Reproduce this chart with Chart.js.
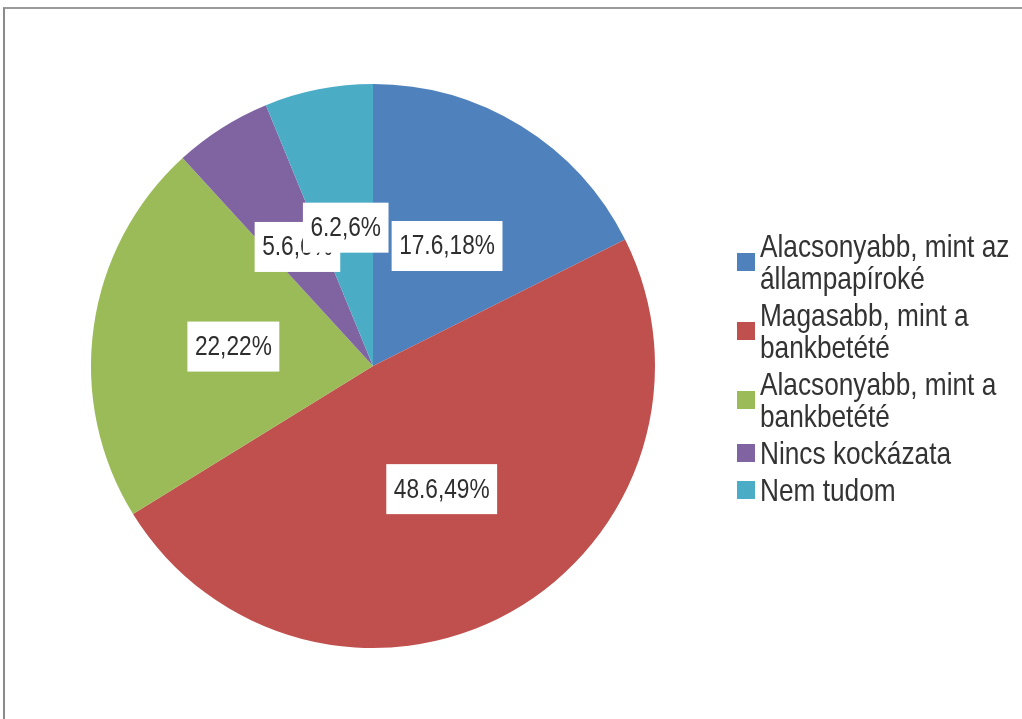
<!DOCTYPE html>
<html>
<head>
<meta charset="utf-8">
<script src="https://cdn.jsdelivr.net/npm/chart.js@4"></script>
<style>
  body { margin: 0; background: #fff; }
  #wrap { position: relative; width: 1022px; height: 719px; overflow: hidden; }
  #frame { position: absolute; left: 3px; top: 7px; width: 1100px; height: 800px;
           border-top: 2px solid #9a9a9a; border-left: 2px solid #8a8a8a; }
  #pie-chart { position: absolute; left: 0; top: 0; }
  #legend { position: absolute; left: 737px; top: 230px; margin: 0; padding: 0; list-style: none;
            font-family: "Liberation Sans", Arial, sans-serif;
            font-size: 32px; line-height: 32px; color: #333; white-space: nowrap; }
  #legend li { display: flex; align-items: center; margin-bottom: 5px; }
  #legend .box { width: 18px; height: 18px; margin-right: 5px; flex: none; }
  #legend .txt { display: inline-block; transform: scaleX(0.82); transform-origin: left center; }
</style>
</head>
<body>
<div id="wrap">
  <div id="frame"></div>
  <canvas id="pie-chart" width="1022" height="719"></canvas>
  <ul id="legend"></ul>
</div>
<script>
const pieCanvas = document.getElementById("pie-chart");
const legendList = document.getElementById("legend");

// Data
const categories = [
  ["Alacsonyabb, mint az", "állampapíroké"],
  ["Magasabb, mint a", "bankbetété"],
  ["Alacsonyabb, mint a", "bankbetété"],
  ["Nincs kockázata"],
  ["Nem tudom"]
];
const shares = [17.6, 48.6, 22, 5.6, 6.2];
const sliceColors = ['#4F81BD', '#C0504D', '#9BBB59', '#8064A2', '#4BACC6'];

const labelFont = '27px "Liberation Sans", Arial, sans-serif';
const squeeze = 0.84; // narrower look of the original font

// White boxed labels "value,percent%" at the middle of each slice
const boxLabels = {
  id: 'boxLabels',
  afterDatasetsDraw(chart) {
    const ctx = chart.ctx;
    const values = chart.data.datasets[0].data;
    const total = values.reduce((a, b) => a + b, 0);
    const arcs = chart.getDatasetMeta(0).data;
    ctx.save();
    ctx.font = labelFont;
    ctx.textAlign = 'center';
    ctx.textBaseline = 'middle';
    arcs.forEach((arc, i) => {
      const pos = arc.getCenterPoint();
      const text = values[i] + ',' + Math.round(values[i] / total * 100) + '%';
      const w = ctx.measureText(text).width * squeeze + 15;
      const h = 50;
      ctx.fillStyle = '#fff';
      ctx.fillRect(pos.x - w / 2, pos.y - h / 2, w, h);
      ctx.save();
      ctx.translate(pos.x, pos.y + 1);
      ctx.scale(squeeze, 1);
      ctx.fillStyle = '#2e2e2e';
      ctx.fillText(text, 0, 0);
      ctx.restore();
    });
    ctx.restore();
  }
};

let pieChart = new Chart(pieCanvas, {
  type: 'pie',
  data: {
    labels: categories.map(c => c.join(' ')),
    datasets: [{
      data: shares,
      backgroundColor: sliceColors,
      borderWidth: 0
    }]
  },
  options: {
    responsive: false,
    animation: false,
    layout: {
      padding: { left: 91, right: 367, top: 84, bottom: 71 }
    },
    plugins: {
      legend: { display: false },
      tooltip: { enabled: false }
    }
  },
  plugins: [boxLabels]
});

// Legend on the right
categories.forEach((lines, i) => {
  const li = document.createElement("li");
  li.innerHTML = '<span class="box" style="background:' + sliceColors[i] + '"></span>' +
    '<span class="txt">' + lines.join('<br>') + '</span>';
  legendList.appendChild(li);
});
</script>
</body>
</html>
